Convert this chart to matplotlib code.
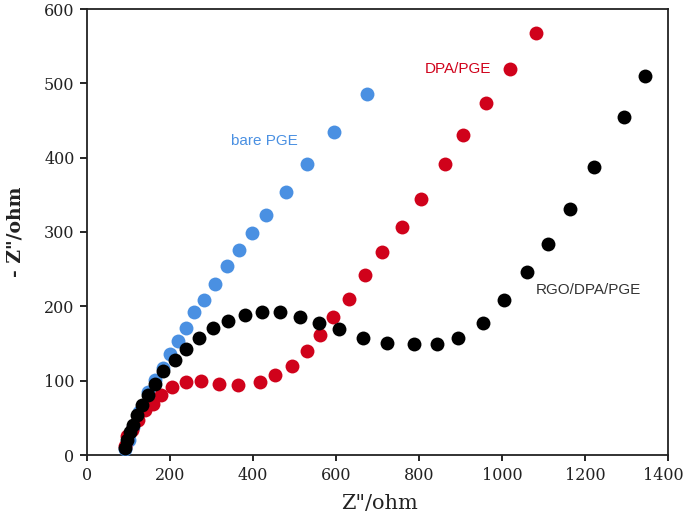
import matplotlib
matplotlib.use("Agg")
import matplotlib.pyplot as plt
import matplotlib.transforms as mtransforms

# bare PGE
bare_x = [92, 100, 112, 125, 147, 164, 183, 200, 220, 239, 259, 281, 308, 338, 366, 397, 432, 479, 530, 596, 675]
bare_y = [8, 20, 38, 58, 85, 101, 117, 136, 153, 171, 193, 209, 230, 254, 276, 298, 323, 354, 392, 435, 486]

# DPA/PGE
dpa_x = [92, 96, 108, 124, 140, 159, 179, 205, 238, 275, 317, 363, 416, 454, 494, 530, 562, 593, 632, 671,
         710, 758, 804, 862, 907, 961, 1019, 1081]
dpa_y = [12, 25, 34, 47, 60, 69, 81, 92, 98, 99, 96, 94, 98, 107, 120, 140, 162, 186, 210, 242,
         273, 307, 345, 391, 430, 474, 519, 568]

# RGO/DPA/PGE
rgo_x = [92, 96, 104, 112, 120, 132, 148, 164, 184, 211, 238, 270, 303, 340, 380, 422, 464, 514, 558, 608,
         665, 723, 789, 844, 895, 954, 1006, 1061, 1111, 1164, 1222, 1294, 1344]
rgo_y = [9, 20, 31, 40, 54, 67, 81, 95, 113, 128, 143, 158, 171, 180, 189, 192, 192, 186, 178, 169,
         158, 151, 149, 149, 157, 178, 208, 246, 284, 331, 387, 455, 510]

blue = "#4A90E2"
red = "#D0021B"

fig = plt.figure(figsize=(6.85, 5.18), dpi=100)
ax = fig.add_axes([87 / 685, 1 - 455 / 518, 581 / 685, 446 / 518])

ax.scatter(bare_x, bare_y, s=100, color=blue, linewidths=0, zorder=3)
ax.scatter(dpa_x, dpa_y, s=100, color=red, linewidths=0, zorder=4)
ax.scatter(rgo_x, rgo_y, s=100, color="black", linewidths=0, zorder=5)

ax.text(427, 423, "bare PGE", color=blue, fontsize=11, ha="center", va="center", family="Liberation Sans")
ax.text(893, 519, "DPA/PGE", color=red, fontsize=11, ha="center", va="center", family="Liberation Sans")
ax.text(1209, 222, "RGO/DPA/PGE", color="#333333", fontsize=11, ha="center", va="center", family="Liberation Sans")

ax.set_xlim(0, 1400)
ax.set_ylim(0, 600)
ax.set_xticks(range(0, 1401, 200))
ax.set_yticks(range(0, 601, 100))

for sp in ax.spines.values():
    sp.set_linewidth(1.3)
    sp.set_color("#222222")

ax.tick_params(axis="x", direction="out", length=4, width=1.2, labelsize=11.5, pad=5)
ax.tick_params(axis="y", direction="out", length=5, width=1.2, labelsize=11.5, pad=4)
for lab in ax.get_xticklabels() + ax.get_yticklabels():
    lab.set_family("DejaVu Serif")
    lab.set_color("#222222")

# last x label sits a little left of its tick, keep it inside the picture
last = ax.xaxis.get_major_ticks()[-1].label1
last.set_transform(last.get_transform() + mtransforms.ScaledTranslation(-0.045, 0, fig.dpi_scale_trans))

ax.set_xlabel('Z"/ohm', fontsize=15, family="DejaVu Serif", color="#222222")
ax.set_ylabel('- Z"/ohm', fontsize=13.5, family="DejaVu Serif", fontweight="bold", color="#222222")
ax.xaxis.set_label_coords(0.504, -0.087)
ax.yaxis.set_label_coords(-0.107, 0.5)

fig.savefig("out.png", dpi=100)
